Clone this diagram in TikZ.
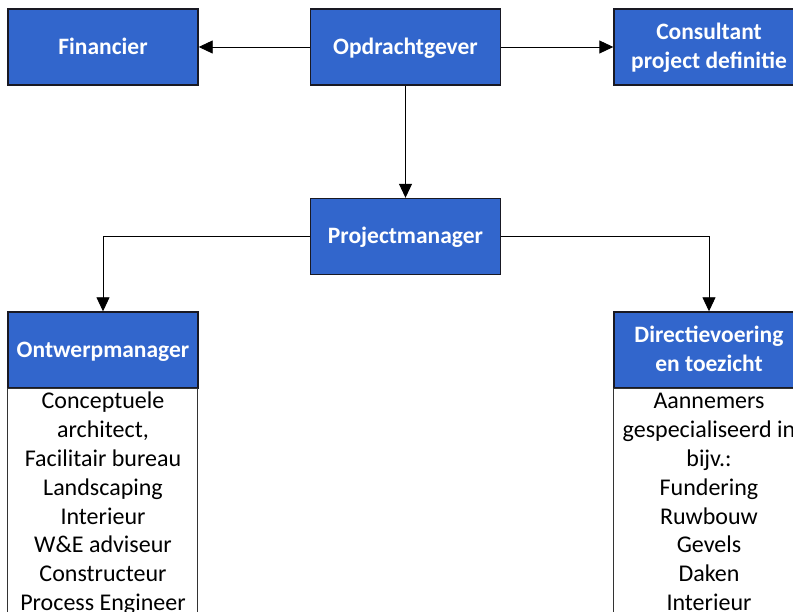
\documentclass[tikz,border=0pt]{standalone}
\usepackage{fontspec}
\setmainfont{Carlito}
\usetikzlibrary{arrows.meta}
\definecolor{boxblue}{RGB}{50,102,204}
\definecolor{boxedge}{RGB}{25,25,35}
\begin{document}
\begin{tikzpicture}[x=1pt,y=-1pt,
  boxhead/.style={draw=boxedge,line width=1.4pt,fill=boxblue,text=white,
    minimum width=190pt,minimum height=76pt,inner sep=0pt,align=center,
    text height=15pt,text depth=0pt,
    font=\fontsize{23.5}{29}\selectfont\bfseries},
  twolines/.style={text height=44pt},
  listtext/.style={inner sep=0pt,align=center,anchor=north,
    font=\fontsize{24}{28.8}\selectfont},
  listframe/.style={draw=black!80,line width=1pt},
  link/.style={draw=black,line width=0.9pt,-{Triangle[length=14pt,width=13pt]}}]
\useasboundingbox (0,0) rectangle (793,612);

% role boxes
\node[boxhead] (fin) at (103,47) {Financier};
\node[boxhead] (opd) at (405.5,47) {Opdrachtgever};
\node[boxhead,twolines] (con) at (709,47) {Consultant\\project definitie};
\node[boxhead] (pm) at (405.5,236.5) {Projectmanager};
\node[boxhead] (ow) at (103,350) {Ontwerpmanager};
\node[boxhead,twolines] (dir) at (709,350) {Directievoering\\en toezicht};

% lists under the two managers
\draw[listframe] (ow.south west) rectangle ++(190,260);
\draw[listframe] (dir.south west) rectangle ++(190,260);
\node[listtext] (owl) at (ow.south) {\rule{0pt}{20pt}Conceptuele\\architect,\\Facilitair bureau\\Landscaping\\Interieur\\W\&E adviseur\\Constructeur\\Process Engineer};
\node[listtext] (dirl) at (dir.south) {\rule{0pt}{20pt}Aannemers\\gespecialiseerd in\\bijv.:\\Fundering\\Ruwbouw\\Gevels\\Daken\\Interieur};

% connectors
\draw[link] (opd) -- (fin);
\draw[link] (opd) -- (con);
\draw[link] (opd) -- (pm);
\draw[link] (pm.west) -| (ow.north);
\draw[link] (pm.east) -| (dir.north);
\end{tikzpicture}
\end{document}
